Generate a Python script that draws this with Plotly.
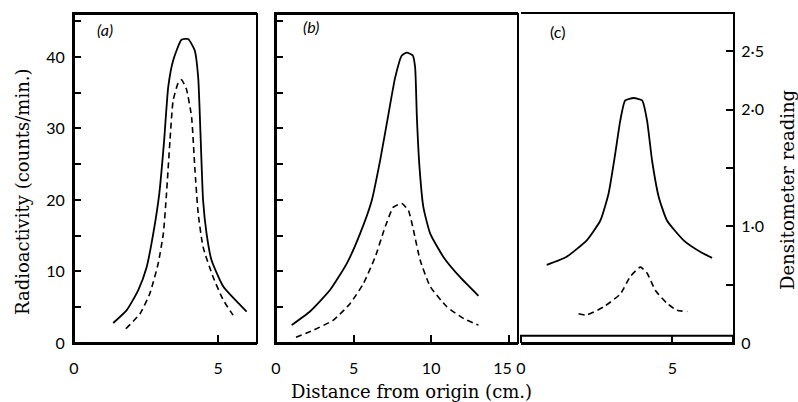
import plotly.graph_objects as go

# ---------------- data ----------------
# panel (a): radioactivity (counts/min) vs distance (cm)
a_solid_x = [1.36, 1.83, 2.23, 2.52, 2.75, 2.96, 3.12, 3.27, 3.44, 3.73, 3.96, 4.19, 4.31, 4.39, 4.48, 4.60, 4.77, 5.18, 5.99]
a_solid_y = [2.8, 4.6, 7.4, 10.6, 15.3, 20.9, 27.9, 35.8, 39.5, 42.4, 42.5, 40.9, 37.1, 29.2, 19.9, 15.3, 11.6, 7.9, 4.4]
a_dash_x = [1.80, 2.29, 2.63, 2.92, 3.10, 3.21, 3.33, 3.44, 3.62, 3.73, 3.90, 4.08, 4.19, 4.31, 4.48, 4.83, 5.18, 5.52]
a_dash_y = [2.0, 4.1, 6.9, 11.1, 15.3, 20.9, 28.3, 33.9, 36.4, 36.8, 35.5, 31.6, 24.6, 18.1, 13.4, 9.2, 6.0, 3.9]

# panel (b)
b_solid_x = [1.01, 2.19, 3.48, 4.56, 5.42, 6.17, 6.71, 7.25, 7.68, 8.11, 8.43, 8.82, 8.97, 9.08, 9.25, 9.50, 9.94, 10.8, 11.87, 13.05]
b_solid_y = [2.5, 4.4, 7.4, 11.1, 15.3, 19.9, 25.5, 32.0, 37.1, 40.2, 40.6, 40.2, 38.5, 31.6, 24.6, 19.0, 15.3, 12.0, 9.2, 6.6]
b_dash_x = [1.29, 2.41, 3.70, 4.77, 5.63, 6.39, 7.03, 7.57, 8.11, 8.54, 8.86, 9.29, 9.94, 11.0, 12.1, 13.05]
b_dash_y = [0.8, 1.8, 3.2, 5.5, 8.3, 12.0, 16.2, 19.0, 19.5, 18.5, 15.8, 11.6, 7.9, 5.1, 3.4, 2.5]

# panel (c): densitometer reading vs distance (cm)
c_solid_x = [0.85, 1.51, 2.17, 2.62, 2.89, 3.11, 3.28, 3.44, 3.72, 4.00, 4.16, 4.33, 4.55, 4.82, 5.37, 5.93, 6.31]
c_solid_y = [0.67, 0.74, 0.88, 1.05, 1.28, 1.62, 1.91, 2.08, 2.10, 2.08, 1.91, 1.56, 1.25, 1.05, 0.88, 0.78, 0.73]
c_dash_x = [1.90, 2.17, 2.73, 3.28, 3.61, 3.94, 4.16, 4.44, 4.82, 5.15, 5.49]
c_dash_y = [0.25, 0.24, 0.31, 0.42, 0.57, 0.65, 0.60, 0.45, 0.34, 0.28, 0.27]

# tick values / labels
radio_ticks = [0, 5, 10, 15, 20, 25, 30, 35, 40, 45]
radio_labels = ["0", "", "10", "", "20", "", "30", "", "40", ""]
dens_ticks = [0, 0.5, 1.0, 1.5, 2.0, 2.5]
dens_labels = ["0", "", "1·0", "", "2·0", "2·5"]
xa_ticks = [0, 5]
xa_labels = ["0", "5"]
xb_ticks = [0, 5, 10, 15]
xb_labels = ["0", "5", "10", "15\u00a0\u00a0\u00a0"]
xc_ticks = [0, 5]
xc_labels = ["0", "5"]

W, H = 798, 402
ydom = [1 - 343 / H, 1 - 14 / H]
dom_a = [74 / W, 257 / W]
dom_b = [276 / W, 518 / W]
dom_c = [521 / W, 733 / W]

TICKFONT = dict(family="Lato, 'Open Sans', sans-serif", size=16, color="black")
SERIF = "DejaVu Serif, 'Liberation Serif', serif"

line_solid = dict(color="black", width=1.8, shape="spline", smoothing=0.5)
line_dash = dict(color="black", width=1.6, dash="6px,4px", shape="spline", smoothing=0.5)

fig = go.Figure()
fig.add_trace(go.Scatter(x=a_solid_x, y=a_solid_y, mode="lines", line=line_solid, xaxis="x", yaxis="y"))
fig.add_trace(go.Scatter(x=a_dash_x, y=a_dash_y, mode="lines", line=line_dash, xaxis="x", yaxis="y"))
fig.add_trace(go.Scatter(x=b_solid_x, y=b_solid_y, mode="lines", line=line_solid, xaxis="x2", yaxis="y3"))
fig.add_trace(go.Scatter(x=b_dash_x, y=b_dash_y, mode="lines", line=line_dash, xaxis="x2", yaxis="y3"))
fig.add_trace(go.Scatter(x=c_solid_x, y=c_solid_y, mode="lines", line=line_solid, xaxis="x3", yaxis="y6"))
fig.add_trace(go.Scatter(x=c_dash_x, y=c_dash_y, mode="lines", line=line_dash, xaxis="x3", yaxis="y6"))


def xax(domain, rng, ticks, labels, anchor):
    return dict(domain=domain, range=rng, anchor=anchor, showline=True, linecolor="black",
                linewidth=2, mirror=True, ticks="inside", ticklen=8, tickwidth=1.5,
                tickcolor="black", tickvals=ticks, ticktext=labels,
                tickfont=TICKFONT, showgrid=False, zeroline=False, fixedrange=True,
                ticklabelstandoff=10, ticklabeloverflow="allow")


def yleft(anchor, labels, over=None):
    d = dict(domain=ydom, range=[0, 46], anchor=anchor, side="left", showline=True,
             linecolor="black", linewidth=2, ticks="inside", ticklen=7, tickwidth=1.5,
             tickcolor="black", tickvals=radio_ticks, ticktext=radio_labels,
             showticklabels=labels, tickfont=TICKFONT, showgrid=False, zeroline=False,
             fixedrange=True, ticklabelstandoff=4)
    if over:
        d["overlaying"] = over
    return d


def yright(anchor, labels, over=None):
    d = dict(domain=ydom, range=[0, 2.82], anchor=anchor, side="right",
             showline=True, linecolor="black", linewidth=2, ticks="inside", ticklen=7,
             tickwidth=1.5, tickcolor="black", tickvals=dens_ticks, ticktext=dens_labels,
             showticklabels=labels, tickfont=TICKFONT, showgrid=False, zeroline=False,
             fixedrange=True, ticklabelstandoff=3)
    if over:
        d["overlaying"] = over
    return d


fig.update_layout(
    width=W, height=H, margin=dict(l=0, r=0, t=0, b=0, autoexpand=False),
    paper_bgcolor="white", plot_bgcolor="rgba(0,0,0,0)", showlegend=False,
    xaxis=xax(dom_a, [0, 6.35], xa_ticks, xa_labels, "y"),
    xaxis2=xax(dom_b, [0, 15.6], xb_ticks, xb_labels, "y3"),
    xaxis3=xax(dom_c, [0, 7.0], xc_ticks, xc_labels, "y5"),
    yaxis=yleft("x", True),
    yaxis2=yright("x", False, over="y"),
    yaxis3=yleft("x2", False),
    yaxis4=yright("x2", False, over="y3"),
    yaxis5=yleft("x3", False),
    yaxis6=yright("x3", True, over="y5"),
)

# panel frames, drawn in each subplot's own domain coordinates
for xr, yr in [("x", "y"), ("x2", "y3"), ("x3", "y5")]:
    fig.add_shape(type="rect", xref=f"{xr} domain", yref=f"{yr} domain",
                  x0=0, x1=1, y0=0, y1=1, line=dict(color="black", width=2),
                  fillcolor="rgba(0,0,0,0)", layer="above")

ann = [
    dict(text="Radioactivity (counts/min.)", x=22 / W, y=1 - 192 / H, textangle=-90,
         font=dict(family=SERIF, size=18, color="black")),
    dict(text="Distance from origin (cm.)", x=411 / W, y=1 - 391 / H,
         font=dict(family=SERIF, size=18, color="black")),
    dict(text="Densitometer reading", x=788 / W, y=1 - 190 / H, textangle=-90,
         font=dict(family=SERIF, size=18, color="black")),
    dict(text="<i>(a)</i>", x=105 / W, y=1 - 30 / H, font=dict(family="Lato", size=16, color="black")),
    dict(text="<i>(b)</i>", x=311 / W, y=1 - 27 / H, font=dict(family="Lato", size=16, color="black")),
    dict(text="(c)", x=557 / W, y=1 - 31 / H, font=dict(family="Lato", size=16, color="black")),
]
for a in ann:
    a.update(xref="paper", yref="paper", showarrow=False, xanchor="center", yanchor="middle")
fig.update_layout(annotations=ann)

fig.write_html("out.html")
